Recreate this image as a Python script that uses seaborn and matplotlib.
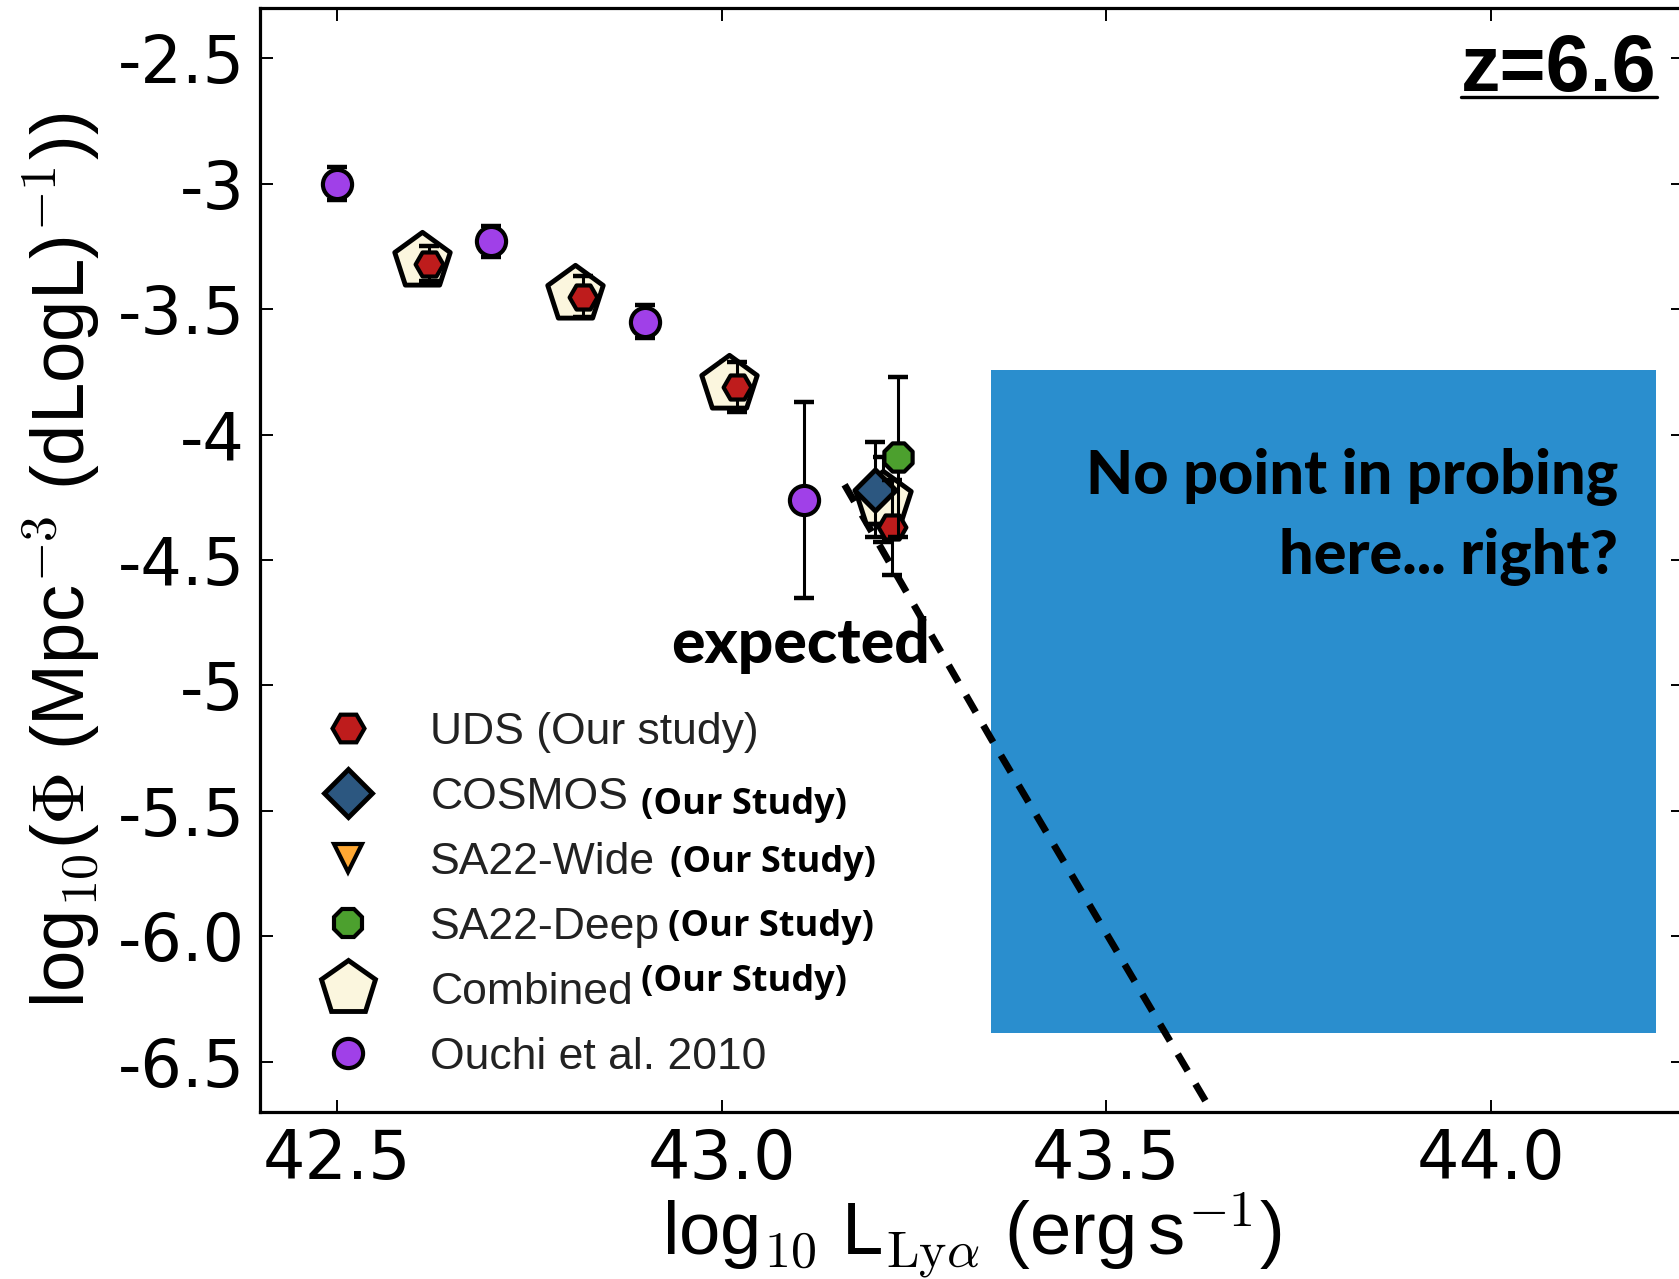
import matplotlib
matplotlib.use("Agg")
import matplotlib.pyplot as plt
from matplotlib.lines import Line2D
import seaborn as sns

# ---------------- data ----------------
# log10 L_Lya and log10 Phi for each survey, with symmetric errors
uds_logL = [42.62, 42.82, 43.02, 43.222]
uds_phi = [-3.32, -3.45, -3.81, -4.37]
uds_err = [0.07, 0.08, 0.10, 0.19]

cosmos_logL = [43.20]
cosmos_phi = [-4.22]
cosmos_err = [0.19]

sa22w_logL = []
sa22w_phi = []
sa22w_err = []

sa22d_logL = [43.23]
sa22d_phi = [-4.09]
sa22d_err = [0.32]

comb_logL = [42.61, 42.81, 43.01, 43.21]
comb_phi = [-3.31, -3.44, -3.80, -4.26]
comb_err = [0.06, 0.07, 0.09, 0.17]

ouchi_logL = [42.5, 42.7, 42.9, 43.107]
ouchi_phi = [-3.00, -3.23, -3.55, -4.26]
ouchi_err = [0.065, 0.063, 0.065, 0.39]

# extrapolated bright end
expected_logL = [43.16, 43.35, 43.63]
expected_phi = [-4.20, -5.21, -6.66]

# unprobed luminosity / density region
region_logL = [43.35, 44.215]
region_phi = [-6.385, -3.743]

x_ticks = [42.5, 43.0, 43.5, 44.0]
x_ticklabels = ["42.5", "43.0", "43.5", "44.0"]
y_ticks = [-2.5, -3, -3.5, -4, -4.5, -5, -5.5, -6.0, -6.5]
y_ticklabels = ["-2.5", "-3", "-3.5", "-4", "-4.5", "-5", "-5.5", "-6.0", "-6.5"]

series_labels = ["UDS (Our study)", "COSMOS", "SA22-Wide", "SA22-Deep",
                 "Combined", "Ouchi et al. 2010"]

# ---------------- style ----------------
RED = "#BE1C1C"
BLUE = "#2C5780"
ORANGE = "#FFA833"
GREEN = "#4CA02E"
CREAM = "#FBF6DE"
PURPLE = "#A040E8"
REGION = "#2A8ECE"

sns.set_theme(style="ticks")
plt.rcParams["font.family"] = ["Liberation Sans", "DejaVu Sans"]
plt.rcParams["mathtext.fontset"] = "cm"
plt.rcParams["text.color"] = "black"
plt.rcParams["axes.labelcolor"] = "black"
plt.rcParams["xtick.color"] = "black"
plt.rcParams["ytick.color"] = "black"

W, H = 1679, 1279
fig = plt.figure(figsize=(W / 100, H / 100), dpi=100)
ax = fig.add_axes([260 / W, 1 - 1112 / H, (1683 - 260) / W, (1112 - 8) / H])
ax.set_xlim(42.4, 44.25)
ax.set_ylim(-6.7, -2.3)

# shaded region
ax.fill_between(region_logL, region_phi[0], region_phi[1], color=REGION,
                linewidth=0, zorder=1)

# expected extrapolation
sns.lineplot(x=expected_logL, y=expected_phi, ax=ax, color="black",
             linewidth=5, linestyle=(0, (2.8, 2.2)), zorder=2)


def draw_series(x, y, err, marker, size, color, mew, z):
    if not len(x):
        return
    ax.errorbar(x, y, yerr=err, fmt="none", ecolor="black", elinewidth=2.2,
                capsize=7, capthick=3.2, zorder=z)
    sns.scatterplot(x=x, y=y, ax=ax, marker=marker, s=size ** 2, color=color,
                    edgecolor="black", linewidth=mew, zorder=z + 0.5,
                    legend=False)


draw_series(comb_logL, comb_phi, comb_err, "p", 42, CREAM, 3.5, 3)
draw_series(cosmos_logL, cosmos_phi, cosmos_err, "D", 21, BLUE, 3.5, 4)
draw_series(uds_logL, uds_phi, uds_err, "H", 20, RED, 3, 5)
draw_series(sa22w_logL, sa22w_phi, sa22w_err, "v", 20, ORANGE, 3, 6)
draw_series(sa22d_logL, sa22d_phi, sa22d_err, "8", 22, GREEN, 3, 6)
draw_series(ouchi_logL, ouchi_phi, ouchi_err, "o", 21, PURPLE, 3, 7)

# axes cosmetics
ax.set_xticks(x_ticks, x_ticklabels, fontsize=48, fontfamily="DejaVu Sans")
ax.set_yticks(y_ticks, y_ticklabels, fontsize=47, fontfamily="DejaVu Sans")
ax.tick_params(direction="in", length=9, width=1.4, top=True, right=True)
ax.tick_params(axis="x", pad=11)
ax.tick_params(axis="y", pad=11)
for sp in ax.spines.values():
    sp.set_linewidth(2.3)
    sp.set_color("black")

ax.set_xlabel(r"log$_{10}$ L$_{\mathrm{Ly}\alpha}$ (erg$\,$s$^{-1}$)", fontsize=53.5)
ax.set_ylabel(r"log$_{10}$($\Phi$ (Mpc$^{-3}$ (dLogL)$^{-1}$))", fontsize=53.5)
ax.xaxis.set_label_coords(0.5, -0.071)
ax.yaxis.set_label_coords(-0.111, 0.5)

# legend
handles = [
    Line2D([], [], ls="none", marker="H", ms=23, mfc=RED, mec="black", mew=3),
    Line2D([], [], ls="none", marker="D", ms=24, mfc=BLUE, mec="black", mew=3.5),
    Line2D([], [], ls="none", marker="v", ms=20, mfc=ORANGE, mec="black", mew=3),
    Line2D([], [], ls="none", marker="8", ms=22, mfc=GREEN, mec="black", mew=3),
    Line2D([], [], ls="none", marker="p", ms=41, mfc=CREAM, mec="black", mew=3.5),
    Line2D([], [], ls="none", marker="o", ms=21, mfc=PURPLE, mec="black", mew=3),
]
leg = ax.legend(handles, series_labels, loc="upper left",
                bbox_to_anchor=(325.5 / W, 1 - 712 / H),
                bbox_transform=fig.transFigure, frameon=False, borderpad=0,
                borderaxespad=0, handlelength=1.0, handletextpad=1.36,
                labelspacing=0.54, fontsize=32, numpoints=1,
                labelcolor="#222222")

# annotations
ax.text(44.166, -4.238, "No point in probing", ha="right", va="baseline",
        fontsize=44, fontfamily="Lato", fontweight="black", zorder=9)
ax.text(44.166, -4.557, "here... right?", ha="right", va="baseline",
        fontsize=44, fontfamily="Lato", fontweight="black", zorder=9)
ax.text(42.934, -4.912, "expected", ha="left", va="baseline",
        fontsize=45, fontfamily="Lato", fontweight="black", zorder=9)
ztxt = ax.text(44.216, -2.630, "z=6.6", ha="right", va="baseline",
               fontsize=57, fontweight="bold", zorder=9)

fig.canvas.draw()
renderer = fig.canvas.get_renderer()
to_fig = fig.transFigure.inverted()

# underline for the redshift tag
bb = ztxt.get_window_extent(renderer)
base_y = ax.transData.transform((44.216, -2.630))[1]
(x0, y0) = to_fig.transform((bb.x0, base_y - 6))
(x1, _) = to_fig.transform((bb.x1, base_y - 6))
fig.add_artist(Line2D([x0, x1], [y0, y0], color="black", linewidth=2.4,
                      transform=fig.transFigure))

# "(Our Study)" tags next to the legend entries
tag_gap = {1: 13, 2: 14, 3: 7, 4: 8}
tag_dy = {1: -7, 2: 0, 3: 1, 4: 11}
for i, txt in enumerate(leg.get_texts()):
    if i not in tag_gap:
        continue
    tb = txt.get_window_extent(renderer)
    px, py = to_fig.transform((tb.x1 + tag_gap[i], (tb.y0 + tb.y1) / 2 + tag_dy[i]))
    fig.text(px, py, "(Our Study)", ha="left", va="center", fontsize=26,
             fontfamily="Open Sans", fontweight="bold")

fig.savefig("out.png", dpi=100)
